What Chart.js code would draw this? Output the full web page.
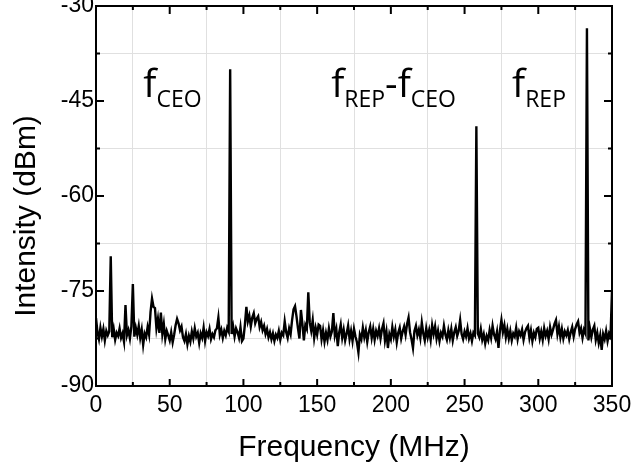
<!DOCTYPE html>
<html>
<head>
<meta charset="utf-8">
<script src="https://cdn.jsdelivr.net/npm/chart.js@4.4.0/dist/chart.umd.min.js"></script>
<style>
  html, body { margin: 0; padding: 0; background: #fff; }
</style>
</head>
<body>
<canvas id="spectrum" width="635" height="472"></canvas>
<script>
// RF spectrum, one reading per MHz from 0 to 350 MHz (dBm)
const intensity = [
  -79.3, -81.5, -82.6, -80.8, -82.2, -81.0, -82.8, -81.3, -82.0, -81.4,
  -69.5, -82.3, -81.0, -82.7, -81.6, -82.1, -80.9, -82.4, -81.7, -83.0,
  -77.2, -82.0, -81.2, -82.5, -80.6, -73.9, -82.2, -80.8, -81.9, -80.5,
  -82.4, -81.1, -83.5, -81.7, -82.3, -80.7, -81.9, -78.3, -76.2, -77.5,
  -77.7, -80.9, -79.4, -81.6, -78.4, -81.8, -80.2, -82.6, -81.3, -82.0,
  -82.8, -81.5, -83.1, -81.9, -80.4, -79.4, -80.1, -81.2, -80.6, -82.3,
  -82.9, -81.8, -83.4, -82.1, -83.0, -81.4, -82.5, -80.9, -82.2, -81.6,
  -83.2, -81.7, -82.4, -80.8, -82.9, -81.5, -82.1, -81.0, -82.6, -81.8,
  -82.3, -81.2, -80.9, -79.2, -81.9, -81.1, -82.4, -81.3, -82.0, -80.8,
  -81.4, -40.0, -81.8, -80.6, -82.2, -80.9, -81.5, -82.4, -80.7, -82.9,
  -82.5, -80.3, -77.5, -79.8, -78.9, -80.6, -79.2, -78.5, -80.1, -79.4,
  -79.0, -80.7, -79.9, -81.2, -80.5, -81.8, -81.0, -82.3, -81.5, -82.6,
  -81.7, -82.9, -81.9, -82.4, -81.3, -82.7, -81.6, -82.0, -79.8, -81.5,
  -82.4, -80.9, -81.8, -79.6, -77.9, -77.4, -79.0, -80.9, -82.5, -78.0,
  -80.2, -82.8, -80.4, -81.0, -75.2, -80.0, -81.3, -79.6, -82.4, -80.8,
  -81.9, -80.3, -80.5, -82.6, -81.2, -83.0, -81.6, -82.7, -80.9, -82.2,
  -81.4, -78.5, -82.0, -81.0, -83.7, -81.5, -80.3, -82.4, -81.1, -82.8,
  -81.7, -80.5, -82.6, -81.3, -82.9, -81.0, -82.2, -83.1, -84.7, -81.9,
  -82.6, -80.8, -82.3, -81.2, -83.0, -81.5, -80.6, -82.4, -81.0, -82.7,
  -81.3, -82.1, -80.9, -82.5, -81.0, -80.1, -82.8, -81.4, -84.0, -81.8,
  -82.6, -80.7, -82.2, -81.1, -83.1, -81.6, -80.8, -82.5, -81.4, -80.6,
  -81.9, -80.2, -79.2, -81.5, -82.6, -84.0, -81.3, -80.5, -82.0, -81.1,
  -82.4, -80.0, -81.7, -82.8, -80.9, -82.3, -81.2, -82.7, -80.4, -81.8,
  -80.6, -82.5, -81.3, -82.9, -81.6, -82.2, -80.5, -81.9, -82.7, -81.2,
  -82.4, -81.0, -82.8, -81.5, -80.7, -82.1, -81.3, -79.6, -81.8, -82.6,
  -81.4, -82.2, -80.9, -82.5, -81.7, -82.9, -81.6, -82.0, -49.0, -81.7,
  -82.3, -81.0, -82.7, -81.8, -83.3, -82.1, -82.8, -81.2, -82.4, -80.5,
  -81.9, -82.6, -81.4, -84.0, -81.2, -79.6, -81.5, -80.4, -82.3, -81.0,
  -82.5, -81.3, -82.8, -81.7, -82.2, -80.8, -82.6, -81.4, -82.0, -81.1,
  -82.7, -81.5, -80.9, -80.5, -82.4, -81.2, -82.9, -81.6, -82.3, -81.0,
  -80.8, -82.5, -81.4, -82.7, -80.9, -82.1, -81.3, -82.6, -80.7, -81.9,
  -81.1, -80.2, -79.6, -81.8, -80.6, -82.3, -81.0, -82.5, -81.4, -82.0,
  -81.2, -82.6, -81.5, -80.7, -82.2, -81.0, -80.3, -79.8, -81.6, -80.9,
  -82.4, -81.1, -81.7, -33.5, -82.8, -80.9, -82.3, -81.1, -80.5, -82.7,
  -81.6, -83.2, -82.0, -84.3, -81.8, -82.6, -81.3, -82.9, -81.7, -82.2,
  -75.0
];
const freqMHz = intensity.map((v, i) => i);

// axes
const xRange = [0, 350];
const xStep = 25;        // minor tick / grid
const xLabelEvery = 50;  // labelled ticks
const yRange = [-90, -30];
const yStep = 7.5;
const yLabelEvery = 15;

// beat note labels, anchored at (MHz, dBm), pieces are [normal, subscript]
const peakLabels = [
  { at: [32.1, -44.4], parts: [['f', 'CEO']] },
  { at: [159.5, -44.4], parts: [['f', 'REP'], ['-', ''], ['f', 'CEO']] },
  { at: [282.2, -44.4], parts: [['f', 'REP']] }
];

const sans = "'Liberation Sans', Arial, sans-serif";
const gridGray = '#e0e0e0';

// frame, inward ticks, y title and peak labels
const frameAndLabels = {
  id: 'frameAndLabels',
  afterDraw(chart) {
    const ctx = chart.ctx;
    const { left, right, top, bottom } = chart.chartArea;
    const xs = chart.scales.x;
    const ys = chart.scales.y;
    ctx.save();
    ctx.strokeStyle = '#000';
    ctx.lineWidth = 2;
    ctx.strokeRect(left, top, right - left, bottom - top);

    ctx.beginPath();
    xs.ticks.forEach(t => {
      const px = xs.getPixelForValue(t.value);
      const major = t.value % xLabelEvery === 0;
      ctx.moveTo(px, bottom); ctx.lineTo(px, bottom - (major ? 7 : 4));
      ctx.moveTo(px, top); ctx.lineTo(px, top + (major ? 8 : 4));
    });
    ys.ticks.forEach(t => {
      const py = ys.getPixelForValue(t.value);
      const major = t.value % yLabelEvery === 0;
      ctx.moveTo(left, py); ctx.lineTo(left + (major ? 8 : 4), py);
      ctx.moveTo(right, py); ctx.lineTo(right - (major ? 8 : 4), py);
    });
    ctx.stroke();

    // y title (sits a bit low in the original)
    ctx.fillStyle = '#000';
    ctx.save();
    ctx.font = '30px ' + sans;
    ctx.textAlign = 'center';
    ctx.textBaseline = 'alphabetic';
    ctx.translate(35, 216);
    ctx.rotate(-Math.PI / 2);
    ctx.fillText('Intensity (dBm)', 0, 0);
    ctx.restore();

    ctx.textAlign = 'left';
    ctx.textBaseline = 'alphabetic';
    peakLabels.forEach(lab => {
      let x = xs.getPixelForValue(lab.at[0]);
      const y = ys.getPixelForValue(lab.at[1]);
      lab.parts.forEach(([main, sub]) => {
        ctx.font = "39px 'Open Sans', sans-serif";
        ctx.fillText(main, x, y);
        x += ctx.measureText(main).width;
        if (sub) {
          ctx.font = "23px 'Open Sans', sans-serif";
          ctx.fillText(sub, x, y + 10);
          x += ctx.measureText(sub).width;
        }
      });
    });
    ctx.restore();
  }
};

new Chart(document.getElementById('spectrum'), {
  type: 'line',
  data: {
    labels: freqMHz,
    datasets: [{
      data: intensity,
      borderColor: '#000',
      borderWidth: 2.4,
      pointRadius: 0,
      tension: 0
    }]
  },
  options: {
    responsive: false,
    animation: false,
    layout: { padding: { top: 6, right: 23, left: 0, bottom: 0 } },
    plugins: { legend: { display: false }, tooltip: { enabled: false } },
    scales: {
      x: {
        type: 'linear',
        min: xRange[0],
        max: xRange[1],
        ticks: {
          stepSize: xStep,
          autoSkip: false,
          maxRotation: 0,
          padding: 6,
          color: '#000',
          font: { family: sans, size: 23 },
          callback: v => (v % xLabelEvery === 0 ? v : '')
        },
        grid: {
          drawTicks: false,
          color: c => (c.tick && c.tick.value % xLabelEvery !== 0 ? gridGray : 'rgba(0,0,0,0)')
        },
        border: { display: false },
        title: {
          display: true,
          text: 'Frequency (MHz)',
          color: '#000',
          font: { family: sans, size: 30 },
          padding: { top: 0, bottom: 6 }
        },
        afterFit: s => { s.height = 86; s.paddingLeft = 0; s.paddingRight = 0; }
      },
      y: {
        min: yRange[0],
        max: yRange[1],
        ticks: {
          stepSize: yStep,
          autoSkip: false,
          padding: 2,
          color: '#000',
          font: { family: sans, size: 23 },
          callback: v => (v % yLabelEvery === 0 ? v : '')
        },
        grid: {
          drawTicks: false,
          color: c => (c.tick && c.tick.value % yLabelEvery !== 0 ? gridGray : 'rgba(0,0,0,0)')
        },
        border: { display: false },
        afterFit: s => { s.width = 96; s.paddingTop = 0; s.paddingBottom = 0; }
      }
    }
  },
  plugins: [frameAndLabels]
});
</script>
</body>
</html>
